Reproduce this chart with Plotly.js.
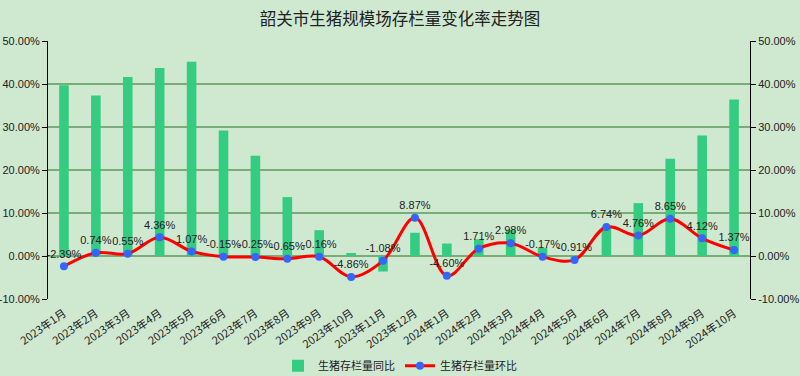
<!DOCTYPE html>
<html>
<head>
<meta charset="utf-8">
<script src="https://cdn.plot.ly/plotly-3.0.1.min.js"></script>
<style>html,body{margin:0;padding:0;background:#cfe8d0;}#chart{width:800px;height:376px;}</style>
</head>
<body>
<div id="chart"></div>
<script>
const categories = ["2023年1月","2023年2月","2023年3月","2023年4月","2023年5月","2023年6月","2023年7月","2023年8月","2023年9月","2023年10月","2023年11月","2023年12月","2024年1月","2024年2月","2024年3月","2024年4月","2024年5月","2024年6月","2024年7月","2024年8月","2024年9月","2024年10月"];
const yoyValues = [39.7, 37.3, 41.6, 43.7, 45.2, 29.2, 23.3, 13.7, 6.0, 0.7, -3.6, 5.4, 2.9, 3.9, 6.1, 1.9, -0.3, 6.8, 12.3, 22.6, 28.0, 36.4];
const momValues = [-2.39, 0.74, 0.55, 4.36, 1.07, -0.15, -0.25, -0.65, -0.16, -4.86, -1.08, 8.87, -4.60, 1.71, 2.98, -0.17, -0.91, 6.74, 4.76, 8.65, 4.12, 1.37];
const yTickVals = [-10, 0, 10, 20, 30, 40, 50];
const yTickText = ["-10.00%","0.00%","10.00%","20.00%","30.00%","40.00%","50.00%"];
const seriesNames = ["生猪存栏量同比", "生猪存栏量环比"];

const boundaries = [];
for (let i = 0; i <= categories.length; i++) boundaries.push(i - 0.5);

const traces = [
  {
    type: 'bar', x: categories, y: yoyValues, name: seriesNames[0],
    marker: {color: '#33cc80'}, hoverinfo: 'x+y'
  },
  {
    type: 'scatter', mode: 'lines+markers+text', x: categories, y: momValues, name: seriesNames[1],
    line: {color: '#ff0000', width: 3, shape: 'spline', smoothing: 1},
    marker: {color: '#3366ff', size: 8},
    text: momValues.map(v => v.toFixed(2) + '%'),
    textposition: 'top center',
    textfont: {family: 'Liberation Sans, Arial, sans-serif', size: 11, color: '#222'},
    cliponaxis: false
  },
  {
    type: 'scatter', x: [categories[0]], y: [0], yaxis: 'y2', showlegend: false,
    hoverinfo: 'skip', mode: 'markers', marker: {opacity: 0}
  }
];

const tickFont = {family: 'Liberation Sans, Arial, sans-serif', size: 11, color: '#222'};

const layout = {
  width: 800, height: 376,
  paper_bgcolor: '#cfe8d0', plot_bgcolor: '#cfe8d0',
  margin: {l: 48, r: 50, t: 41, b: 77, autoexpand: false},
  title: {text: '韶关市生猪规模场存栏量变化率走势图', x: 0.5, xanchor: 'center', y: 0.95, yanchor: 'middle',
          font: {family: 'Noto Sans CJK SC, sans-serif', size: 16.5, color: '#222'}},
  bargap: 0.7,
  showlegend: true,
  legend: {orientation: 'h', x: 0.5, xanchor: 'center', xref: 'container', y: 0.027, yanchor: 'middle', yref: 'container',
           itemwidth: 30, font: {family: 'Noto Sans CJK SC, sans-serif', size: 11, color: '#222'}, bgcolor: 'rgba(0,0,0,0)'},
  xaxis: {
    type: 'category', range: [-0.5, categories.length - 0.5], tickangle: -35, automargin: false,
    showgrid: false, zeroline: false, showline: false, ticks: '', ticklabelstandoff: 5,
    tickfont: {family: 'Noto Sans CJK SC, sans-serif', size: 11, color: '#222'},
    fixedrange: true
  },
  xaxis2: {
    overlaying: 'x', anchor: 'free', position: 1/6, type: 'linear', automargin: false,
    range: [-0.5, categories.length - 0.5], showgrid: false, zeroline: false,
    showline: true, linecolor: '#000', linewidth: 1,
    tickmode: 'array', tickvals: boundaries, ticks: 'outside', ticklen: 5, tickcolor: '#000',
    showticklabels: false
  },
  yaxis: {
    range: [-10, 50], tickvals: yTickVals, ticktext: yTickText, tickfont: tickFont, automargin: false,
    showgrid: true, gridcolor: '#78ad78', gridwidth: 1.5, zeroline: false,
    showline: true, linecolor: '#000', linewidth: 1, ticks: 'outside', ticklen: 5, tickcolor: '#000'
  },
  yaxis2: {
    overlaying: 'y', side: 'right', range: [-10, 50], tickvals: yTickVals, ticktext: yTickText, tickfont: tickFont,
    automargin: false, showgrid: false, zeroline: false, showline: true, linecolor: '#000', linewidth: 1,
    ticks: 'outside', ticklen: 5, tickcolor: '#000'
  }
};

Plotly.newPlot('chart', traces, layout, {displayModeBar: false, staticPlot: true});
</script>
</body>
</html>
